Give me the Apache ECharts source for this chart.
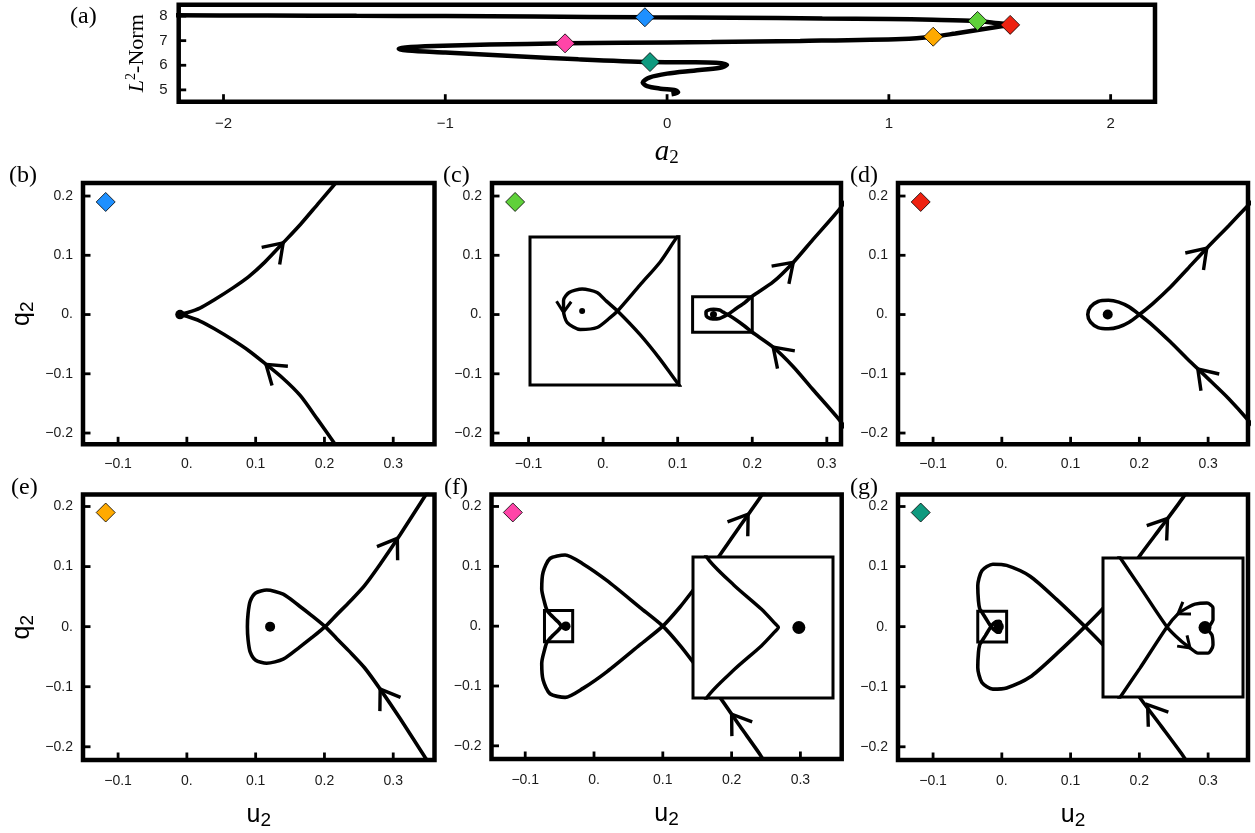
<!DOCTYPE html>
<html>
<head>
<meta charset="utf-8">
<script src="https://cdn.jsdelivr.net/npm/echarts@6/dist/echarts.min.js"></script>
<style>
  html, body { margin: 0; padding: 0; background: #fff; }
  #chart { width: 1255px; height: 833px; }
</style>
</head>
<body>
<div id="chart"></div>
<script>
// ---------------- tick values ----------------
const aTicks = [-2, -1, 0, 1, 2];
const normTicks = [5, 6, 7, 8];
const uTicks = [-0.1, 0, 0.1, 0.2, 0.3];
const qTicks = [-0.2, -0.1, 0, 0.1, 0.2];

// ---------------- (a) continuation branch: [a2, L2-norm] ----------------
const branchA = [
  [-2.3, 8.03], [-1.8, 8.02], [-1.4, 8.01], [-1.0, 8.0], [-0.6, 7.98], [-0.1, 7.95],
  [0.3, 7.93], [0.7, 7.9], [1.0, 7.88], [1.2, 7.85], [1.4, 7.8], [1.47, 7.73],
  [1.547, 7.64], [1.5, 7.57], [1.4, 7.43], [1.3, 7.29], [1.2, 7.16], [1.06, 7.07],
  [0.6, 6.99], [0.2, 6.94], [-0.2, 6.91], [-0.46, 6.89], [-0.8, 6.84], [-1.05, 6.78],
  [-1.18, 6.72], [-1.21, 6.66], [-1.17, 6.6], [-1.0, 6.52], [-0.7, 6.38], [-0.4, 6.24],
  [-0.077, 6.13], [0.1, 6.12], [0.22, 6.1], [0.27, 6.02], [0.24, 5.9], [0.12, 5.78],
  [0.0, 5.66], [-0.08, 5.5], [-0.11, 5.3], [-0.09, 5.15], [-0.03, 5.05], [0.04, 4.98],
  [0.05, 4.9], [0.02, 4.82]
];
// solutions picked out on the branch, in panel order (b)..(g)
const solutionKeys = ['b', 'c', 'd', 'e', 'f', 'g'];
const solutionPoints = [
  [-0.1, 7.95], [1.4, 7.8], [1.547, 7.64], [1.2, 7.16], [-0.46, 6.89], [-0.077, 6.13]
];

// ---------------- phase-plane orbits: [u2, q2] ----------------
// marker shown in the corner of each phase plane
const keyMark = [[-0.118, 0.19]];

// (b)
const orbitB = [
  [0.228, -0.24], [0.215, -0.218], [0.19, -0.177], [0.165, -0.137], [0.14, -0.108],
  [0.113, -0.082], [0.09, -0.061], [0.067, -0.043], [0.04, -0.024], [0.019, -0.011],
  [0.0, -0.003], [-0.01, 0], [0.0, 0.003], [0.019, 0.011], [0.04, 0.025],
  [0.067, 0.045], [0.09, 0.064], [0.113, 0.088], [0.14, 0.121], [0.165, 0.152],
  [0.19, 0.186], [0.215, 0.22], [0.228, 0.24]
];
const equilibriumB = [[-0.01, 0]];
// arrow: [tip u, tip q, trailing u, trailing q]
const arrowsB = [[0.14, 0.121, 0.113, 0.088], [0.115, -0.084, 0.14, -0.108]];

// (c)
const orbitC = [
  [0.335, -0.21], [0.317, -0.178], [0.281, -0.126], [0.255, -0.088], [0.228, -0.055],
  [0.2, -0.03], [0.19, -0.0197], [0.179, -0.0095], [0.167, 0],
  [0.161, 0.004], [0.156, 0.0075], [0.148, 0.0089], [0.141, 0.0075], [0.138, 0.0043],
  [0.138, 0], [0.14, -0.0047], [0.147, -0.0075], [0.156, -0.0067], [0.163, -0.0027],
  [0.167, 0], [0.179, 0.0105], [0.19, 0.02], [0.2, 0.031], [0.228, 0.055],
  [0.255, 0.088], [0.281, 0.126], [0.317, 0.178], [0.335, 0.21]
];
const equilibriumC = [[0.148, 0]];
const arrowsC = [[0.255, 0.088, 0.228, 0.055], [0.228, -0.055, 0.255, -0.088]];
const insetArrowsC = [[0.138, -0.0005, 0.1382, 0.0043]];
const zoomBoxC = [[0.12, -0.03, 0.2, 0.03]];

// (d)
const orbitD = [
  [0.38, -0.21], [0.358, -0.178], [0.33, -0.142], [0.298, -0.106], [0.27, -0.075],
  [0.245, -0.046], [0.22, -0.019], [0.2, 0], [0.185, 0.013], [0.17, 0.021],
  [0.155, 0.024], [0.14, 0.022], [0.129, 0.013], [0.125, 0], [0.129, -0.013],
  [0.14, -0.022], [0.155, -0.024], [0.17, -0.021], [0.185, -0.013], [0.2, 0],
  [0.22, 0.019], [0.245, 0.046], [0.27, 0.077], [0.298, 0.112], [0.33, 0.15],
  [0.358, 0.184], [0.38, 0.21]
];
const equilibriumD = [[0.154, 0]];
const arrowsD = [[0.298, 0.112, 0.27, 0.077], [0.285, -0.092, 0.312, -0.126]];

// (e)
const orbitE = [
  [0.357, -0.236], [0.346, -0.217], [0.31, -0.153], [0.281, -0.104], [0.258, -0.068],
  [0.237, -0.042], [0.218, -0.02], [0.201, 0], [0.182, 0.018], [0.164, 0.034],
  [0.14, 0.054], [0.116, 0.061], [0.1, 0.056], [0.092, 0.042], [0.089, 0.022],
  [0.088, 0], [0.089, -0.022], [0.092, -0.042], [0.1, -0.056], [0.116, -0.061],
  [0.14, -0.054], [0.164, -0.034], [0.182, -0.018], [0.201, 0], [0.218, 0.02],
  [0.237, 0.042], [0.258, 0.068], [0.281, 0.104], [0.31, 0.153], [0.346, 0.217],
  [0.357, 0.236]
];
const equilibriumE = [[0.121, 0]];
const arrowsE = [[0.306, 0.147, 0.281, 0.104], [0.281, -0.104, 0.306, -0.147]];

// (f)
const orbitF = [
  [0.255, -0.24], [0.241, -0.214], [0.212, -0.167], [0.183, -0.119], [0.144, -0.06],
  [0.125, -0.032], [0.1, 0], [0.067, 0.031], [0.019, 0.076], [-0.016, 0.104],
  [-0.042, 0.119], [-0.064, 0.113], [-0.074, 0.09], [-0.076, 0.062], [-0.072, 0.04],
  [-0.068, 0.026], [-0.06, 0.0156], [-0.052, 0.0068], [-0.048, 0.0015], [-0.047, 0],
  [-0.048, -0.0015], [-0.052, -0.0068], [-0.06, -0.0156], [-0.068, -0.026],
  [-0.072, -0.04], [-0.076, -0.062], [-0.074, -0.09], [-0.064, -0.113], [-0.042, -0.119],
  [-0.016, -0.104], [0.019, -0.076], [0.067, -0.031], [0.1, 0], [0.125, 0.032],
  [0.144, 0.06], [0.183, 0.119], [0.212, 0.167], [0.241, 0.214], [0.255, 0.24]
];
const equilibriumF = [[-0.041, 0]];
const arrowsF = [[0.224, 0.187, 0.2, 0.148], [0.2, -0.147, 0.225, -0.188]];
const zoomBoxF = [[-0.072, -0.026, -0.031, 0.026]];

// (g)
const orbitG = [
  [0.278, -0.24], [0.263, -0.214], [0.232, -0.166], [0.2, -0.117], [0.175, -0.075],
  [0.153, -0.038], [0.121, 0], [0.08, 0.045], [0.041, 0.084], [0.007, 0.102],
  [-0.013, 0.104], [-0.029, 0.093], [-0.035, 0.068], [-0.034, 0.043], [-0.0322, 0.03],
  [-0.0298, 0.0255], [-0.0239, 0.0149], [-0.0158, 0.0002], [-0.0119, -0.0046],
  [-0.0089, -0.0075], [-0.0065, -0.0094], [-0.0035, -0.0094], [-0.002, -0.0064],
  [-0.0023, -0.0028], [-0.0035, -0.0006], [-0.002, 0.0028], [-0.002, 0.0072],
  [-0.0038, 0.009], [-0.0074, 0.0086], [-0.0098, 0.0072], [-0.0125, 0.005],
  [-0.0158, 0.0002], [-0.0239, -0.0149], [-0.0298, -0.0255], [-0.0322, -0.03],
  [-0.034, -0.043], [-0.035, -0.068], [-0.029, -0.093], [-0.013, -0.104], [0.007, -0.102],
  [0.041, -0.084], [0.08, -0.045], [0.121, 0], [0.153, 0.038], [0.175, 0.075],
  [0.2, 0.117], [0.232, 0.166], [0.263, 0.214], [0.278, 0.24]
];
const equilibriumG = [[-0.0044, 0]];
const arrowsG = [[0.241, 0.18, 0.215, 0.14], [0.212, -0.13, 0.235, -0.166]];
const insetArrowsG = [[-0.0089, -0.0075, -0.0158, 0.0002], [-0.0125, 0.005, -0.0098, 0.0072]];
const zoomBoxG = [[-0.035, -0.0255, 0.007, 0.0255]];

// ---------------- styling ----------------
const SOLUTION_COLORS = ['#1e90ff', '#5fd13a', '#ee2211', '#ffaa00', '#ff45a8', '#0f9a7f'];
const SANS = 'Liberation Sans, Arial, sans-serif';
const SERIF = 'Liberation Serif, Times New Roman, serif';
const LABEL_COLOR = '#1a1a1a';

// frame rectangles (pixels)
const FRAMES = {
  a: { left: 178.7, top: 4.7, width: 976.3, height: 97 },
  b: { left: 83, top: 183, width: 351.5, height: 261.3 },
  c: { left: 492, top: 183, width: 349, height: 261.3 },
  d: { left: 898, top: 183, width: 350, height: 261.3 },
  e: { left: 83, top: 494.5, width: 351.5, height: 265.5 },
  f: { left: 491.5, top: 494.5, width: 350.2, height: 264.5 },
  g: { left: 898, top: 494.5, width: 350, height: 265.5 }
};
const INSET_FRAMES = {
  c: { left: 530, top: 237, width: 149, height: 148 },
  f: { left: 693, top: 557, width: 140, height: 141 },
  g: { left: 1103, top: 558, width: 140, height: 139 }
};
const U_RANGE = { b: [-0.151, 0.36], c: [-0.149, 0.319], d: [-0.151, 0.358],
                  e: [-0.151, 0.36], f: [-0.149, 0.36], g: [-0.151, 0.358] };
const Q_RANGE = { b: [-0.219, 0.222], c: [-0.219, 0.222], d: [-0.219, 0.222],
                  e: [-0.222, 0.22], f: [-0.222, 0.22], g: [-0.222, 0.22] };
const TICK_LEN = 7.5;

const decFmt = v => Math.abs(v) < 1e-9 ? '0.' : (v < 0 ? '\u2212' : '') + Math.abs(v).toFixed(1);
const intFmt = v => (v < 0 ? '\u2212' : '') + Math.abs(v);

const grids = [], xAxes = [], yAxes = [], series = [];

function addMainGrid(frame) {
  grids.push(Object.assign({ show: true, borderColor: '#000', borderWidth: 4.5,
    backgroundColor: 'transparent', containLabel: false, outerBoundsMode: 'none', z: 1 }, frame));
  return grids.length - 1;
}
function addInsetGrid(frame) {
  grids.push(Object.assign({ show: true, borderColor: '#000', borderWidth: 3,
    backgroundColor: '#fff', containLabel: false, outerBoundsMode: 'none', z: 10 }, frame));
  return grids.length - 1;
}
function labelAxis(gi, range, ticks, fmt, margin, fontSize, extra) {
  return Object.assign({
    gridIndex: gi, type: 'value', min: range[0], max: range[1],
    axisLine: { show: false, onZero: false }, splitLine: { show: false },
    axisTick: { show: false },
    axisLabel: { show: true, customValues: ticks, formatter: fmt, margin: margin,
                 fontFamily: SANS, fontSize: fontSize, color: LABEL_COLOR }
  }, extra || {});
}
function hiddenAxis(gi, range) {
  return { gridIndex: gi, type: 'value', min: range[0], max: range[1], show: false,
           axisLine: { onZero: false }, splitLine: { show: false } };
}

// short inward tick marks along the bottom edge (dx = 0, dy = -1) or left edge (dx = 1, dy = 0)
function tickMarks(gi, points, dx, dy) {
  return {
    type: 'custom', xAxisIndex: gi, yAxisIndex: gi, silent: true, z: 5, clip: false,
    data: points, encode: { x: 0, y: 1 },
    renderItem: function (params, api) {
      const p = api.coord([api.value(0), api.value(1)]);
      return { type: 'line',
               shape: { x1: p[0], y1: p[1], x2: p[0] + dx * TICK_LEN, y2: p[1] + dy * TICK_LEN },
               style: { stroke: '#000', lineWidth: 2.8 } };
    }
  };
}
function addTicks(gi, xr, yr, xTicks, yTicks) {
  series.push(tickMarks(gi, xTicks.map(v => [v, yr[0]]), 0, -1));
  series.push(tickMarks(gi, yTicks.map(v => [xr[0], v]), 1, 0));
}

// chevron arrowhead: arms trail back along the orbit
function chevron(len, half, width) {
  return function (params, api) {
    const tip = api.coord([api.value(0), api.value(1)]);
    const back = api.coord([api.value(2), api.value(3)]);
    const a = Math.atan2(back[1] - tip[1], back[0] - tip[0]);
    return {
      type: 'polyline',
      shape: { points: [
        [tip[0] + len * Math.cos(a + half), tip[1] + len * Math.sin(a + half)],
        tip,
        [tip[0] + len * Math.cos(a - half), tip[1] + len * Math.sin(a - half)]
      ] },
      style: { stroke: '#000', lineWidth: width, fill: null, lineJoin: 'miter' }
    };
  };
}
function boxItem(params, api) {
  const p0 = api.coord([api.value(0), api.value(1)]);
  const p1 = api.coord([api.value(2), api.value(3)]);
  return {
    type: 'rect',
    shape: { x: Math.min(p0[0], p1[0]), y: Math.min(p0[1], p1[1]),
             width: Math.abs(p1[0] - p0[0]), height: Math.abs(p1[1] - p0[1]) },
    style: { stroke: '#000', fill: null, lineWidth: 3 }
  };
}
function orbitSeries(gi, data, width, z, smooth) {
  return { type: 'line', xAxisIndex: gi, yAxisIndex: gi, data: data, symbol: 'none',
           smooth: smooth, clip: true, silent: true, z: z,
           lineStyle: { color: '#000', width: width, opacity: 1 } };
}
function dotSeries(gi, data, size, z) {
  return { type: 'scatter', xAxisIndex: gi, yAxisIndex: gi, data: data, symbol: 'circle',
           symbolSize: size, silent: true, z: z, itemStyle: { color: '#000', opacity: 1 } };
}
function arrowSeries(gi, data, len, width, z) {
  return { type: 'custom', xAxisIndex: gi, yAxisIndex: gi, data: data, silent: true, z: z,
           encode: { x: [0, 2], y: [1, 3] }, renderItem: chevron(len, 0.6, width), clip: false };
}
function boxSeries(gi, data, z) {
  return { type: 'custom', xAxisIndex: gi, yAxisIndex: gi, data: data, silent: true, z: z,
           encode: { x: [0, 2], y: [1, 3] }, renderItem: boxItem };
}

// ---------------- (a) ----------------
const A_X = [-2.202, 2.2], A_Y = [4.52, 8.46];
const gA = addMainGrid(FRAMES.a);
xAxes.push(labelAxis(gA, A_X, aTicks, intFmt, 15, 15, {
  name: '{i|a}{s|2}', nameLocation: 'middle', nameGap: 35,
  nameTextStyle: { rich: {
    i: { fontFamily: SERIF, fontStyle: 'italic', fontSize: 29, color: '#000' },
    s: { fontFamily: SERIF, fontSize: 19, color: '#000', padding: [12, 0, 0, 0] } } }
}));
yAxes.push(labelAxis(gA, A_Y, normTicks, intFmt, 11, 15, {
  name: '{i|L}{s|2}{r|-Norm}', nameLocation: 'middle', nameGap: 27, nameRotate: 90,
  nameTextStyle: { rich: {
    i: { fontFamily: SERIF, fontStyle: 'italic', fontSize: 22, color: '#000' },
    s: { fontFamily: SERIF, fontSize: 14, color: '#000', padding: [0, 0, 12, 0] },
    r: { fontFamily: SERIF, fontSize: 22, color: '#000' } } }
}));
addTicks(gA, A_X, A_Y, aTicks, normTicks);
series.push(orbitSeries(gA, branchA, 4.5, 2, 0.3));
series.push({
  type: 'scatter', xAxisIndex: gA, yAxisIndex: gA, symbol: 'diamond', symbolSize: 19,
  silent: true, z: 4,
  data: solutionPoints.map((p, i) => ({ value: p, itemStyle: { color: SOLUTION_COLORS[i] } })),
  itemStyle: { borderColor: '#000', borderWidth: 0.8, opacity: 1 }
});

// ---------------- phase planes ----------------
const planes = [
  { key: 'b', orbit: orbitB, eq: equilibriumB, eqSize: 9.5, arrows: arrowsB, yName: true },
  { key: 'c', orbit: orbitC, eq: equilibriumC, eqSize: 7, arrows: arrowsC, box: zoomBoxC,
    inset: { arrows: insetArrowsC, eqSize: 6 } },
  { key: 'd', orbit: orbitD, eq: equilibriumD, eqSize: 10, arrows: arrowsD },
  { key: 'e', orbit: orbitE, eq: equilibriumE, eqSize: 10, arrows: arrowsE, yName: true, xName: true },
  { key: 'f', orbit: orbitF, eq: equilibriumF, eqSize: 9.5, arrows: arrowsF, box: zoomBoxF, xName: true,
    inset: { arrows: [], eqSize: 13 } },
  { key: 'g', orbit: orbitG, eq: equilibriumG, eqSize: 10, arrows: arrowsG, box: zoomBoxG, xName: true,
    inset: { arrows: insetArrowsG, eqSize: 13 } }
];

const subName = (letter) => ({
  name: '{m|' + letter + '}{s|2}', nameLocation: 'middle',
  nameTextStyle: { rich: {
    m: { fontFamily: SANS, fontSize: 25, color: '#000' },
    s: { fontFamily: SANS, fontSize: 19, color: '#000', padding: [11, 0, 0, 0] } } }
});

planes.forEach(p => {
  const gi = addMainGrid(FRAMES[p.key]);
  const isTopRow = ['b', 'c', 'd'].includes(p.key);
  const xr = U_RANGE[p.key], yr = Q_RANGE[p.key];
  xAxes.push(labelAxis(gi, xr, uTicks, decFmt, isTopRow ? 13 : 14, 14,
    p.xName ? Object.assign(subName('u'), { nameGap: 40 }) : {}));
  yAxes.push(labelAxis(gi, yr, qTicks, decFmt, 10, 14,
    p.yName ? Object.assign(subName('q'), { nameGap: 46, nameRotate: 90 }) : {}));
  addTicks(gi, xr, yr, uTicks, qTicks);
  series.push(orbitSeries(gi, p.orbit, 3.6, 2, 0.25));
  series.push(dotSeries(gi, p.eq, p.eqSize, 3));
  series.push(arrowSeries(gi, p.arrows, 22, 3.4, 3));
  if (p.box) series.push(boxSeries(gi, p.box, 3));
  series.push({
    type: 'scatter', xAxisIndex: gi, yAxisIndex: gi, symbol: 'diamond', symbolSize: 19,
    silent: true, z: 4, data: keyMark,
    itemStyle: { color: SOLUTION_COLORS[solutionKeys.indexOf(p.key)], borderColor: '#000',
                 borderWidth: 0.8, opacity: 1 }
  });
});

// magnified views of the boxed regions
planes.filter(p => p.inset).forEach(p => {
  const gi = addInsetGrid(INSET_FRAMES[p.key]);
  const b = p.box[0];
  xAxes.push(hiddenAxis(gi, [b[0], b[2]]));
  yAxes.push(hiddenAxis(gi, [b[1], b[3]]));
  series.push(orbitSeries(gi, p.orbit, 3.4, 12, 0.25));
  series.push(dotSeries(gi, p.eq, p.inset.eqSize, 13));
  if (p.inset.arrows.length) series.push(arrowSeries(gi, p.inset.arrows, 13, 3, 13));
});

// panel letters
const letters = [
  ['(a)', 70, 18], ['(b)', 9, 177], ['(c)', 443, 177], ['(d)', 850, 177],
  ['(e)', 11, 489], ['(f)', 444, 489], ['(g)', 850, 489]
];

const chart = echarts.init(document.getElementById('chart'), null, { renderer: 'canvas' });
chart.setOption({
  animation: false,
  backgroundColor: '#fff',
  grid: grids,
  xAxis: xAxes,
  yAxis: yAxes,
  series: series,
  graphic: letters.map(l => ({
    type: 'text', left: l[1], top: l[2] - 13, z: 20,
    style: { text: l[0], font: '24px ' + SERIF, fill: '#000' }
  }))
});
</script>
</body>
</html>
